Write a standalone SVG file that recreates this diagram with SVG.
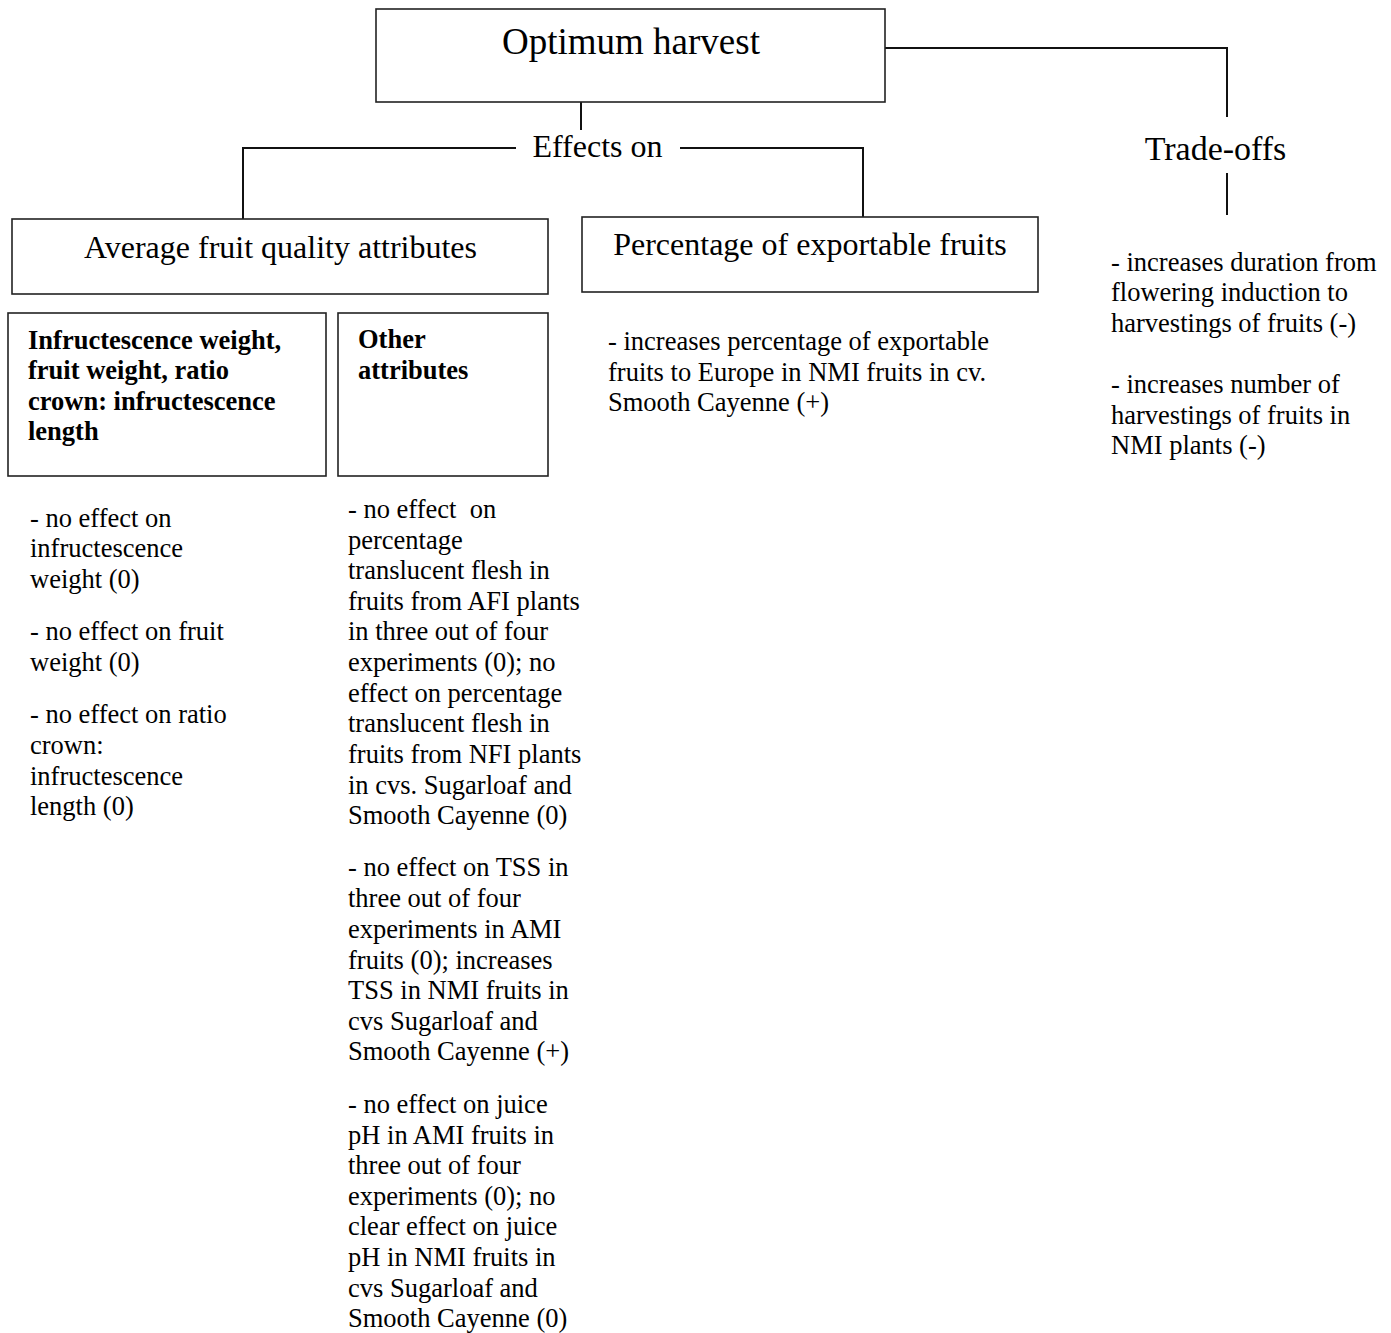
<svg xmlns="http://www.w3.org/2000/svg" width="1391" height="1333" viewBox="0 0 1391 1333">
<style>
.box{fill:#fff;stroke:#222;stroke-width:1.6}
.ln{fill:none;stroke:#111;stroke-width:2}
text{font-family:"Liberation Serif","Times New Roman",serif;fill:#000}
.t1{font-size:37px;text-anchor:middle}
.t2{font-size:32px;text-anchor:middle}
.t3{font-size:34px;text-anchor:middle}
.b{font-size:26.5px;font-weight:bold}
.p{font-size:26.5px}
</style>
<rect width="1391" height="1333" fill="#fff"/>
<g id="connectors">
<path class="ln" d="M581,102 V130"/>
<path class="ln" d="M243,219 V148 H516"/>
<path class="ln" d="M680,148 H863 V217"/>
<path class="ln" d="M885,48 H1227 V117"/>
<path class="ln" d="M1227,173 V215"/>
</g>
<g id="optimum-harvest">
<rect class="box" x="376" y="9" width="509" height="93"/>
<text class="t1" x="631" y="54">Optimum harvest</text>
</g>
<g id="effects-on">
<text class="t2" x="597.5" y="157">Effects on</text>
</g>
<g id="trade-offs">
<text class="t3" x="1215.5" y="160">Trade-offs</text>
</g>
<g id="average-fruit-quality">
<rect class="box" x="12" y="219" width="536" height="75"/>
<text class="t2" x="280.5" y="258">Average fruit quality attributes</text>
</g>
<g id="percentage-exportable">
<rect class="box" x="582" y="217" width="456" height="75"/>
<text class="t2" x="810" y="255">Percentage of exportable fruits</text>
</g>
<g id="infructescence">
<rect class="box" x="8" y="313" width="318" height="163"/>
<text class="b" x="28"><tspan x="28" y="349">Infructescence weight,</tspan><tspan x="28" y="379">fruit weight, ratio</tspan><tspan x="28" y="410">crown: infructescence</tspan><tspan x="28" y="440">length</tspan></text>
</g>
<g id="other-attributes">
<rect class="box" x="338" y="313" width="210" height="163"/>
<text class="b" x="358"><tspan x="358" y="348">Other</tspan><tspan x="358" y="379">attributes</tspan></text>
</g>
<g id="infructescence-effects">
<text class="p"><tspan x="30" y="527">- no effect on</tspan><tspan x="30" y="557">infructescence</tspan><tspan x="30" y="588">weight (0)</tspan></text>
<text class="p"><tspan x="30" y="640">- no effect on fruit</tspan><tspan x="30" y="671">weight (0)</tspan></text>
<text class="p"><tspan x="30" y="723">- no effect on ratio</tspan><tspan x="30" y="754">crown:</tspan><tspan x="30" y="785">infructescence</tspan><tspan x="30" y="815">length (0)</tspan></text>
</g>
<g id="other-effects">
<text class="p" xml:space="preserve"><tspan x="348" y="518">- no effect  on</tspan><tspan x="348" y="549">percentage</tspan><tspan x="348" y="579">translucent flesh in</tspan><tspan x="348" y="610">fruits from AFI plants</tspan><tspan x="348" y="640">in three out of four</tspan><tspan x="348" y="671">experiments (0); no</tspan><tspan x="348" y="702">effect on percentage</tspan><tspan x="348" y="732">translucent flesh in</tspan><tspan x="348" y="763">fruits from NFI plants</tspan><tspan x="348" y="794">in cvs. Sugarloaf and</tspan><tspan x="348" y="824">Smooth Cayenne (0)</tspan></text>
<text class="p"><tspan x="348" y="876">- no effect on TSS in</tspan><tspan x="348" y="907">three out of four</tspan><tspan x="348" y="938">experiments in AMI</tspan><tspan x="348" y="969">fruits (0); increases</tspan><tspan x="348" y="999">TSS in NMI fruits in</tspan><tspan x="348" y="1030">cvs Sugarloaf and</tspan><tspan x="348" y="1060">Smooth Cayenne (+)</tspan></text>
<text class="p"><tspan x="348" y="1113">- no effect on juice</tspan><tspan x="348" y="1144">pH in AMI fruits in</tspan><tspan x="348" y="1174">three out of four</tspan><tspan x="348" y="1205">experiments (0); no</tspan><tspan x="348" y="1235">clear effect on juice</tspan><tspan x="348" y="1266">pH in NMI fruits in</tspan><tspan x="348" y="1297">cvs Sugarloaf and</tspan><tspan x="348" y="1327">Smooth Cayenne (0)</tspan></text>
</g>
<g id="percentage-effects">
<text class="p"><tspan x="608" y="350">- increases percentage of exportable</tspan><tspan x="608" y="381">fruits to Europe in NMI fruits in cv.</tspan><tspan x="608" y="411">Smooth Cayenne (+)</tspan></text>
</g>
<g id="trade-off-effects">
<text class="p"><tspan x="1111" y="271">- increases duration from</tspan><tspan x="1111" y="301">flowering induction to</tspan><tspan x="1111" y="332">harvestings of fruits (-)</tspan></text>
<text class="p"><tspan x="1111" y="393">- increases number of</tspan><tspan x="1111" y="424">harvestings of fruits in</tspan><tspan x="1111" y="454">NMI plants (-)</tspan></text>
</g>
</svg>
